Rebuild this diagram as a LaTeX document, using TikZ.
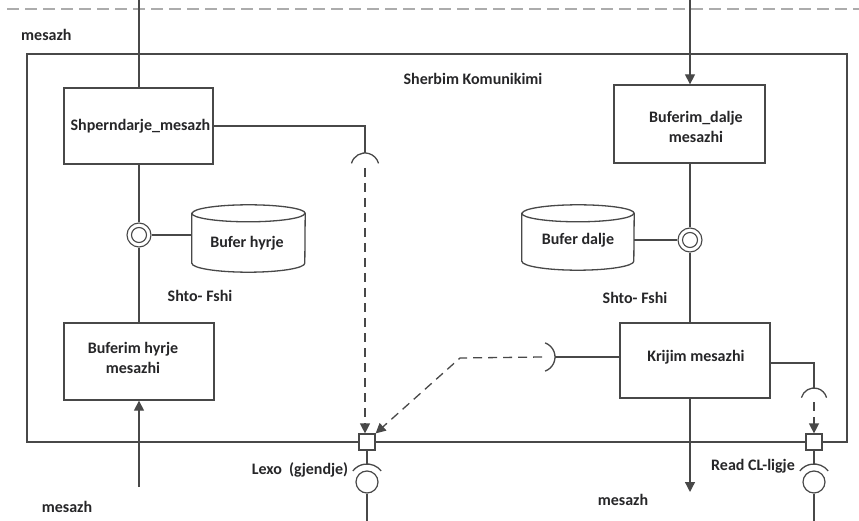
\documentclass[tikz,border=0pt]{standalone}
\usepackage{fontspec}
\setmainfont{Carlito}
\usetikzlibrary{arrows.meta,calc}
\definecolor{ink}{RGB}{38,38,40}
\definecolor{wire}{RGB}{72,72,72}
\definecolor{rule}{RGB}{172,172,172}

\begin{document}
\begin{tikzpicture}[x=1pt,y=-1pt,
  wire/.style={draw=wire,line width=1.3pt},
  lbl/.style={font=\bfseries\fontsize{16}{19.5}\selectfont,text=ink,inner sep=0pt,align=center},
  comp/.style={draw=wire,line width=1.3pt,fill=white,inner sep=0pt},
  store/.style={inner sep=0pt},
  joint/.style={circle,draw=wire,line width=1.1pt,fill=white,minimum size=24pt,inner sep=0pt},
  ball/.style={circle,draw=wire,line width=1.2pt,fill=white,minimum size=22pt,inner sep=0pt},
  port/.style={draw=wire,line width=1.2pt,fill=white,minimum size=16pt,inner sep=0pt},
  dsh/.style={draw=wire,line width=1.3pt,dash pattern=on 9pt off 6pt},
  tip/.style={-{Triangle[length=10pt,width=10pt]}},
]
\useasboundingbox (0,0) rectangle (859,521);

% system boundary
\draw[draw=rule,line width=1.7pt,dash pattern=on 12pt off 6pt] (7,9) -- (859,9);
\node[draw=wire,line width=1.3pt,minimum width=820pt,minimum height=388pt,inner sep=0pt] (frame) at (437,248) {};

% components
\node[comp,minimum width=149pt,minimum height=76pt] (shp) at (138.5,126) {};
\node[comp,minimum width=150pt,minimum height=77pt] (bhm) at (139,361.5) {};
\node[comp,minimum width=151pt,minimum height=78pt] (bdm) at (689.5,124) {};
\node[comp,minimum width=150pt,minimum height=75pt] (krm) at (695,360.5) {};

% buffers (cylinders drawn round invisible nodes)
\node[store,minimum width=113pt,minimum height=67pt] (bh) at (248.5,238.5) {};
\node[store,minimum width=112pt,minimum height=65pt] (bd) at (578,237.5) {};
\foreach \c/\rx in {bh/56.5,bd/56} {
  \draw[wire,fill=white] ($(\c.north west)+(0,8.5)$) -- ($(\c.south west)+(0,-9)$)
    arc[start angle=180,end angle=360,x radius=\rx pt,y radius=9pt]
    -- ($(\c.north east)+(0,8.5)$)
    arc[start angle=0,end angle=180,x radius=\rx pt,y radius=8.5pt] -- cycle;
  \draw[wire] ($(\c.north west)+(0,8.5)$)
    arc[start angle=180,end angle=360,x radius=\rx pt,y radius=8.5pt];
}

% provided/required joints
\node[joint] (jL) at (139,235) {};
\draw[draw=wire,line width=1.1pt] (jL) circle[radius=7.5pt];
\node[joint] (jR) at (690,240) {};
\draw[draw=wire,line width=1.1pt] (jR) circle[radius=7.5pt];

% ports on the boundary
\node[port] (sqL) at (367,442) {};
\node[port] (sqR) at (814,442) {};

% lollipops below the ports
\node[ball] (ballL) at (367,482) {};
\node[ball] (ballR) at (814,482) {};
\foreach \b in {ballL,ballR}
  \draw[wire] ($(\b)+(38:18pt)$) arc[start angle=38,end angle=142,radius=18pt];
\coordinate (eL) at (367,521);
\coordinate (eR) at (814,521);
\draw[wire] (sqL.south) -- ($(ballL)+(0,-18)$);
\draw[wire] (ballL.south) -- (eL);
\draw[wire] (sqR.south) -- ($(ballR)+(0,-18)$);
\draw[wire] (ballR.south) -- (eR);

% sockets
\coordinate (sA) at (365,167);
\coordinate (sB) at (540,357);
\coordinate (sC) at (814,401);
\draw[wire] ($(sA)+(165:14pt)$) arc[start angle=165,end angle=15,radius=14pt];
\draw[wire] ($(sB)+(-70:15pt)$) arc[start angle=-70,end angle=70,radius=15pt];
\draw[wire] ($(sC)+(165:13pt)$) arc[start angle=165,end angle=15,radius=13pt];

% solid connectors
\coordinate (tL) at (139,0);
\coordinate (tR) at (690,0);
\coordinate (bL) at (139,487);
\coordinate (mR) at (690,492);
\draw[wire] (tL) -- (tL |- shp.north);
\draw[wire,tip] (tR) -- (tR |- bdm.north);
\draw[wire,tip] (bL) -- (bL |- bhm.south);
\draw[wire,tip] (mR |- krm.south) -- (mR);
\draw[wire] (jL |- shp.south) -- (jL.north);
\draw[wire] (jL.south) -- (jL |- bhm.north);
\draw[wire] (jL.east) -- (jL -| bh.west);
\draw[wire] (jR |- bdm.south) -- (jR.north);
\draw[wire] (jR.south) -- (jR |- krm.north);
\draw[wire] (jR -| bd.east) -- (jR.west);
\draw[wire] (shp.east) -| ($(sA)+(0,-14)$);
\draw[wire] ($(sB)+(15,0)$) -- (sB -| krm.west);
\coordinate (kout) at ($(krm.east)+(0,2.5)$);
\draw[wire] (kout) -| ($(sC)+(0,-13)$);

% dashed dependencies
\coordinate (kink) at (460,358);
\draw[dsh,tip] ($(sA)+(0,1)$) -- (sA |- sqL.north);
\draw[dsh,tip] ($(sB)+(2,0)$) -- (kink) -- (sqL.north east);
\draw[dsh,tip] ($(sC)+(0,1)$) -- (sC |- sqR.north);

% labels
\node[lbl,anchor=west] (l1) at (21,35) {mesazh};
\node[lbl] (l2) at (473,79) {Sherbim Komunikimi};
\node[lbl] (l3) at (140.5,126) {Shperndarje\_mesazh};
\node[lbl] (l4) at (696,127) {Buferim\_dalje\\mesazhi};
\node[lbl] (l5) at (133,358) {Buferim hyrje\\mesazhi};
\node[lbl] (l6) at (247,243) {Bufer hyrje};
\node[lbl] (l7) at (578,240) {Bufer dalje};
\node[lbl] (l8) at (200,296) {Shto- Fshi};
\node[lbl] (l9) at (635,298) {Shto- Fshi};
\node[lbl] (l10) at (696,357) {Krijim mesazhi};
\node[lbl] (l11) at (300,470) {Lexo~~(gjendje)};
\node[lbl] (l12) at (753,466) {Read CL-ligje};
\node[lbl] (l13) at (67,507) {mesazh};
\node[lbl] (l14) at (623,500) {mesazh};
\end{tikzpicture}
\end{document}
